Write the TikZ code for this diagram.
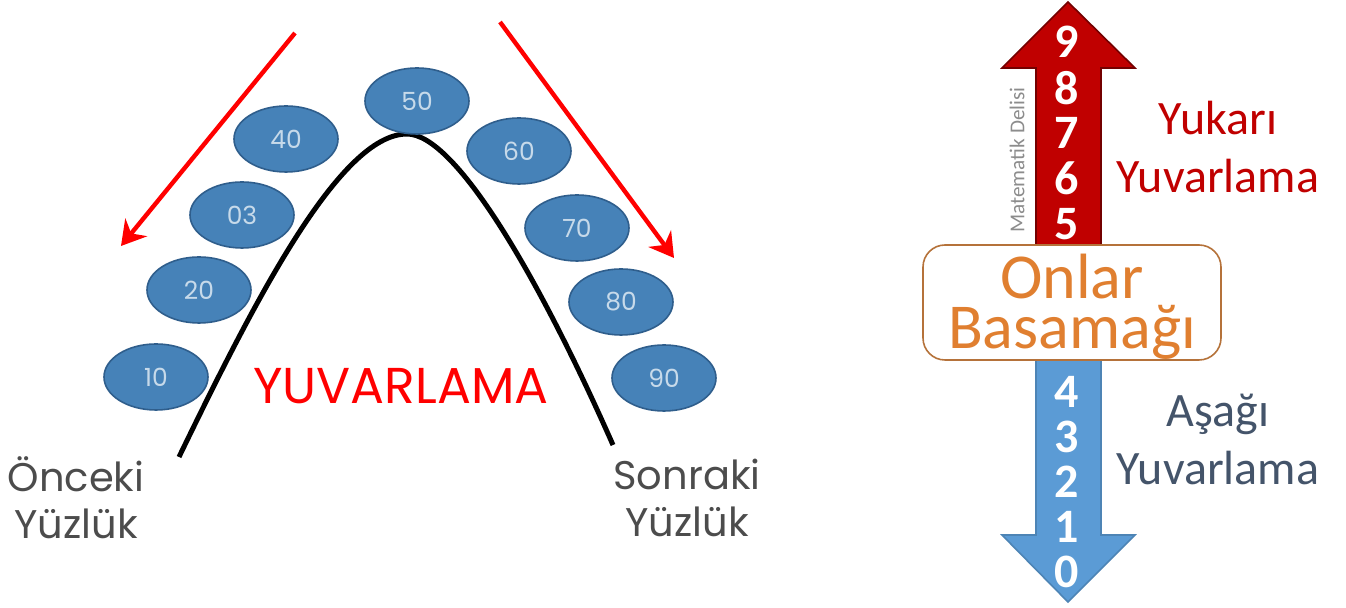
\documentclass[tikz,border=0pt]{standalone}
\usepackage{fontspec}
\usepackage{xcolor}
\usetikzlibrary{arrows.meta,positioning,shapes.geometric}
\setmainfont{Carlito}
\newfontfamily\roundfont{Poppins}
\definecolor{ovalblue}{HTML}{4682B8}
\definecolor{ovaledge}{HTML}{2F5E8C}
\definecolor{upred}{HTML}{C00000}
\definecolor{downblue}{HTML}{5B9BD5}
\definecolor{boxbrown}{HTML}{B5723A}
\definecolor{boxorange}{HTML}{E07F30}
\definecolor{downtext}{HTML}{44546A}
\tikzset{
    %Define style for the tens ovals
    tensoval/.style={
           ellipse,
           draw=ovaledge, thick,
           fill=ovalblue,
           minimum height=33pt,
           minimum width=52pt,
           inner sep=0pt,
           text=white!70!ovalblue,
           font=\roundfont\fontsize{12.5}{15}\selectfont},
    cornerlabel/.style={
           align=center,
           text=black!70,
           font=\roundfont\fontsize{20}{23.5}\selectfont},
    redarrow/.style={
           -{Stealth[length=12pt,width=14pt]},
           draw=red, line width=2.2pt},
    digitlabel/.style={
           text=white,
           inner sep=0pt,
           font=\bfseries\fontsize{24}{24}\selectfont},
    sidelabel/.style={
           align=center,
           font=\fontsize{24}{29}\selectfont},
    tenslabel/.style={
           text=boxorange,
           inner sep=0pt,
           font=\fontsize{32}{32}\selectfont}
}
\begin{document}
\begin{tikzpicture}[x=0.5pt,y=-0.5pt]
\useasboundingbox (0,0) rectangle (1346,608);
%left part
\coordinate (curveL) at (179,457);
\coordinate (curveT) at (407,134);
\coordinate (curveR) at (613,445);
\draw[line width=2.5pt] (curveL) .. controls (255,300) and (340,134) .. (curveT) .. controls (455,134) and (538,275) .. (curveR);
\node[tensoval] (oval10) at (156,377) {10};
\node[tensoval] (oval20) at (199,290) {20};
\node[tensoval] (oval03) at (242,215) {03};
\node[tensoval] (oval40) at (286,139) {40};
\node[tensoval] (oval50) at (417,101) {50};
\node[tensoval] (oval60) at (519,151) {60};
\node[tensoval] (oval70) at (577,228) {70};
\node[tensoval] (oval80) at (621,302) {80};
\node[tensoval] (oval90) at (664,378) {90};
\coordinate (redLa) at (295,33);
\coordinate (redLb) at (121,246);
\coordinate (redRa) at (500,22);
\coordinate (redRb) at (674,258);
\draw[redarrow] (redLa) -- (redLb);
\draw[redarrow] (redRa) -- (redRb);
\node[text=red, inner sep=0pt, font=\roundfont\fontsize{25.2}{25}\selectfont] (title) at (401,386) {YUVARLAMA};
\node[cornerlabel] (prevH) at (76,498) {Önceki\\Yüzlük};
\node[cornerlabel] (nextH) at (687,498) {Sonraki\\Yüzlük};
%right part
\draw[draw=upred!60!black, fill=upred, thick] (1036,245) -- (1036,68) -- (1002,68) -- (1068,2) -- (1135,68) -- (1101,68) -- (1101,245) -- cycle;
\draw[draw=downblue!85!black, fill=downblue, thick] (1036,360) -- (1036,535) -- (1002,535) -- (1068,602) -- (1135,535) -- (1101,535) -- (1101,360) -- cycle;
\node[draw=boxbrown, thick, fill=white, rounded corners=11pt, minimum width=149pt, minimum height=57.5pt, inner sep=0pt] (tens) at (1072,302.5) {};
\node[tenslabel] (onlar) at (1072,277) {Onlar};
\node[tenslabel] (basamak) at (1072,332) {Basamağı};
\node[digitlabel] (d9) at (1067,42) {9};
\node[digitlabel] (d8) at (1067,88) {8};
\node[digitlabel] (d7) at (1067,133) {7};
\node[digitlabel] (d6) at (1067,178) {6};
\node[digitlabel] (d5) at (1067,224) {5};
\node[digitlabel] (d4) at (1067,392) {4};
\node[digitlabel] (d3) at (1067,437) {3};
\node[digitlabel] (d2) at (1067,482) {2};
\node[digitlabel] (d1) at (1067,527) {1};
\node[digitlabel] (d0) at (1067,572) {0};
\node[sidelabel, text=upred] (upL) at (1218,147) {Yukarı\\Yuvarlama};
\node[sidelabel, text=downtext] (downL) at (1218,439) {Aşağı\\Yuvarlama};
\node[rotate=90, text=black!45, inner sep=0pt, font=\fontsize{10.6}{12}\selectfont] (site) at (1017,160) {Matematik Delisi};
\end{tikzpicture}
\end{document}
